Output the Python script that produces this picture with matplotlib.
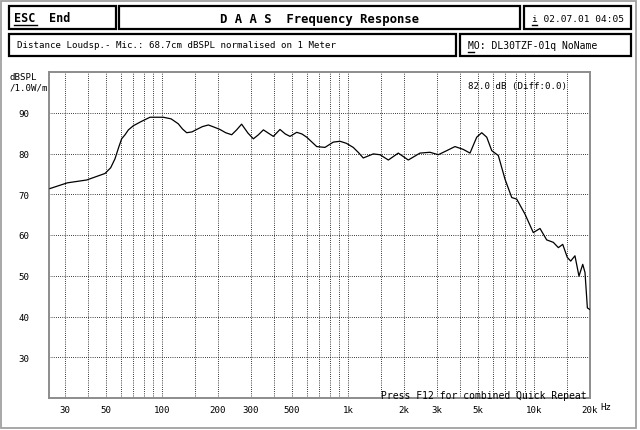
import matplotlib
matplotlib.use("Agg")
from matplotlib import pyplot as plt
from matplotlib.patches import Rectangle
from matplotlib.lines import Line2D

# 周波数特性 (読み取り値)
freq_hz = [25, 31, 39.4, 49.4, 53, 55.9, 58.5, 60.7, 63.3, 66, 70.1, 77, 86.2,
           101.6, 112, 122.3, 129, 135.8, 145, 153.7, 165, 177.6, 190, 205, 220,
           237, 252, 268, 290, 310, 330, 351, 373, 397, 431, 460, 488, 530, 565,
           600, 640, 679, 752, 834, 906, 980, 1067, 1140, 1208, 1368, 1486, 1648,
           1864, 2109, 2438, 2760, 3057, 3395, 3760, 4169, 4528, 4920, 5235,
           5571, 5927, 6430, 6984, 7590, 8075, 8950, 9910, 10770, 11700, 12700,
           13520, 14270, 15100, 15750, 16600, 17450, 18280, 18800, 19360, 20000]
spl_db = [71.4, 72.8, 73.5, 75.1, 76.5, 78.7, 81.5, 83.6, 84.6, 85.8, 86.8, 87.8,
          88.9, 88.9, 88.5, 87.3, 86.0, 85.1, 85.3, 85.9, 86.6, 87.0, 86.5, 85.9,
          85.1, 84.6, 85.8, 87.2, 85.0, 83.6, 84.6, 85.8, 85.0, 84.2, 85.9, 84.8,
          84.2, 85.2, 84.8, 84.0, 82.8, 81.7, 81.5, 82.8, 83.0, 82.5, 81.5, 80.2,
          78.9, 79.9, 79.7, 78.4, 80.1, 78.4, 80.1, 80.3, 79.7, 80.7, 81.7, 81.0,
          80.1, 84.0, 85.1, 84.0, 80.7, 79.5, 73.7, 69.2, 68.8, 65.1, 60.6, 61.6,
          58.8, 58.2, 56.9, 57.7, 54.5, 53.6, 54.9, 49.9, 52.8, 50.8, 42.1, 41.7]

xtick_vals = [30, 50, 100, 200, 300, 500, 1000, 2000, 3000, 5000, 10000, 20000]
xtick_labels = ["30", "50", "100", "200", "300", "500", "1k", "2k", "3k", "5k", "10k", "20k"]
xgrid_vals = [30, 40, 50, 60, 70, 80, 90, 100, 150, 200, 300, 400, 500, 600, 700,
              800, 900, 1000, 1500, 2000, 3000, 4000, 5000, 6000, 7000, 8000, 9000,
              10000, 15000]
ytick_vals = [30, 40, 50, 60, 70, 80, 90]

W, H = 640, 431
MONO = "DejaVu Sans Mono"
FRAME_GRAY = "#8c8c8c"


def fx(x):
    return x / W


def fy(y):
    return 1 - y / H


fig = plt.figure(figsize=(W / 100, H / 100), dpi=100)
fig.patch.set_facecolor("white")

# 外枠 (ディザ風のグレー)
fig.add_artist(Rectangle((fx(1), fy(429)), fx(635), 427 / H, transform=fig.transFigure,
                         fill=False, edgecolor="#a0a0a0", linewidth=1.3))


def box(x0, y0, x1, y1):
    fig.add_artist(Rectangle((fx(x0), fy(y1)), fx(x1 - x0), (y1 - y0) / H,
                             transform=fig.transFigure, fill=False,
                             edgecolor="black", linewidth=1.6))


# ヘッダーのボックス
box(9, 7, 116, 30)
box(119, 7, 520, 30)
box(524, 7, 631, 30)
box(9, 35, 456, 57)
box(460, 35, 631, 57)

fig.text(fx(14), fy(19), "ESC", family=MONO, fontsize=8.5, fontweight="bold", va="center")
fig.text(fx(49), fy(19), "End", family=MONO, fontsize=8.5, fontweight="bold", va="center")
fig.add_artist(Line2D([fx(14), fx(37)], [fy(26), fy(26)], color="black", linewidth=1))
fig.text(fx(320), fy(19), "D A A S  Frequency Response", family=MONO, fontsize=8.8,
         fontweight="bold", ha="center", va="center")
fig.text(fx(532), fy(19), "i 02.07.01 04:05", family=MONO, fontsize=6.8, va="center")
fig.add_artist(Line2D([fx(532), fx(537)], [fy(26), fy(26)], color="black", linewidth=1))
fig.text(fx(17), fy(46), "Distance Loudsp.- Mic.: 68.7cm dBSPL normalised on 1 Meter",
         family=MONO, fontsize=6.6, va="center")
fig.text(fx(468), fy(46), "MO: DL30TZF-01q NoName", family=MONO, fontsize=7, va="center")
fig.add_artist(Line2D([fx(468), fx(474)], [fy(53), fy(53)], color="black", linewidth=1))

# プロット領域
ax = fig.add_axes([fx(49), fy(399), fx(590) - fx(49), (399 - 73) / H])
ax.set_xscale("log")
ax.set_xlim(24.7, 20000)
ax.set_ylim(20, 100)

dots = (0, (0.72, 1.44))
for g in xgrid_vals:
    ax.axvline(g, color="black", linewidth=0.72, linestyle=dots, zorder=1)
for g in ytick_vals:
    ax.axhline(g, color="black", linewidth=0.72, linestyle=dots, zorder=1)

ax.plot(freq_hz, spl_db, color="black", linewidth=0.9, zorder=3)

ax.set_xticks(xtick_vals)
ax.set_xticklabels(xtick_labels, family=MONO, fontsize=6.6)
ax.xaxis.set_minor_locator(matplotlib.ticker.NullLocator())
ax.set_yticks(ytick_vals)
ax.set_yticklabels([str(v) for v in ytick_vals], family=MONO, fontsize=6.6)
ax.tick_params(length=0, pad=5)
ax.tick_params(axis="y", pad=14)
for s in ax.spines.values():
    s.set_color(FRAME_GRAY)
    s.set_linewidth(1.4)

fig.text(fx(600), fy(408), "Hz", family=MONO, fontsize=6.6, va="center")
fig.text(fx(37), fy(78), "dBSPL", family=MONO, fontsize=6.6, ha="right", va="center")
fig.text(fx(48), fy(88), "/1.0W/m", family=MONO, fontsize=6.6, ha="right", va="center")
fig.text(fx(567), fy(86), "82.0 dB (Diff:0.0)", family=MONO, fontsize=6.6,
         ha="right", va="center")
fig.text(fx(381), fy(396), "Press F12 for combined Quick Repeat", family=MONO,
         fontsize=7, va="center")

fig.savefig("out.png", dpi=100, facecolor="white")
plt.close(fig)
